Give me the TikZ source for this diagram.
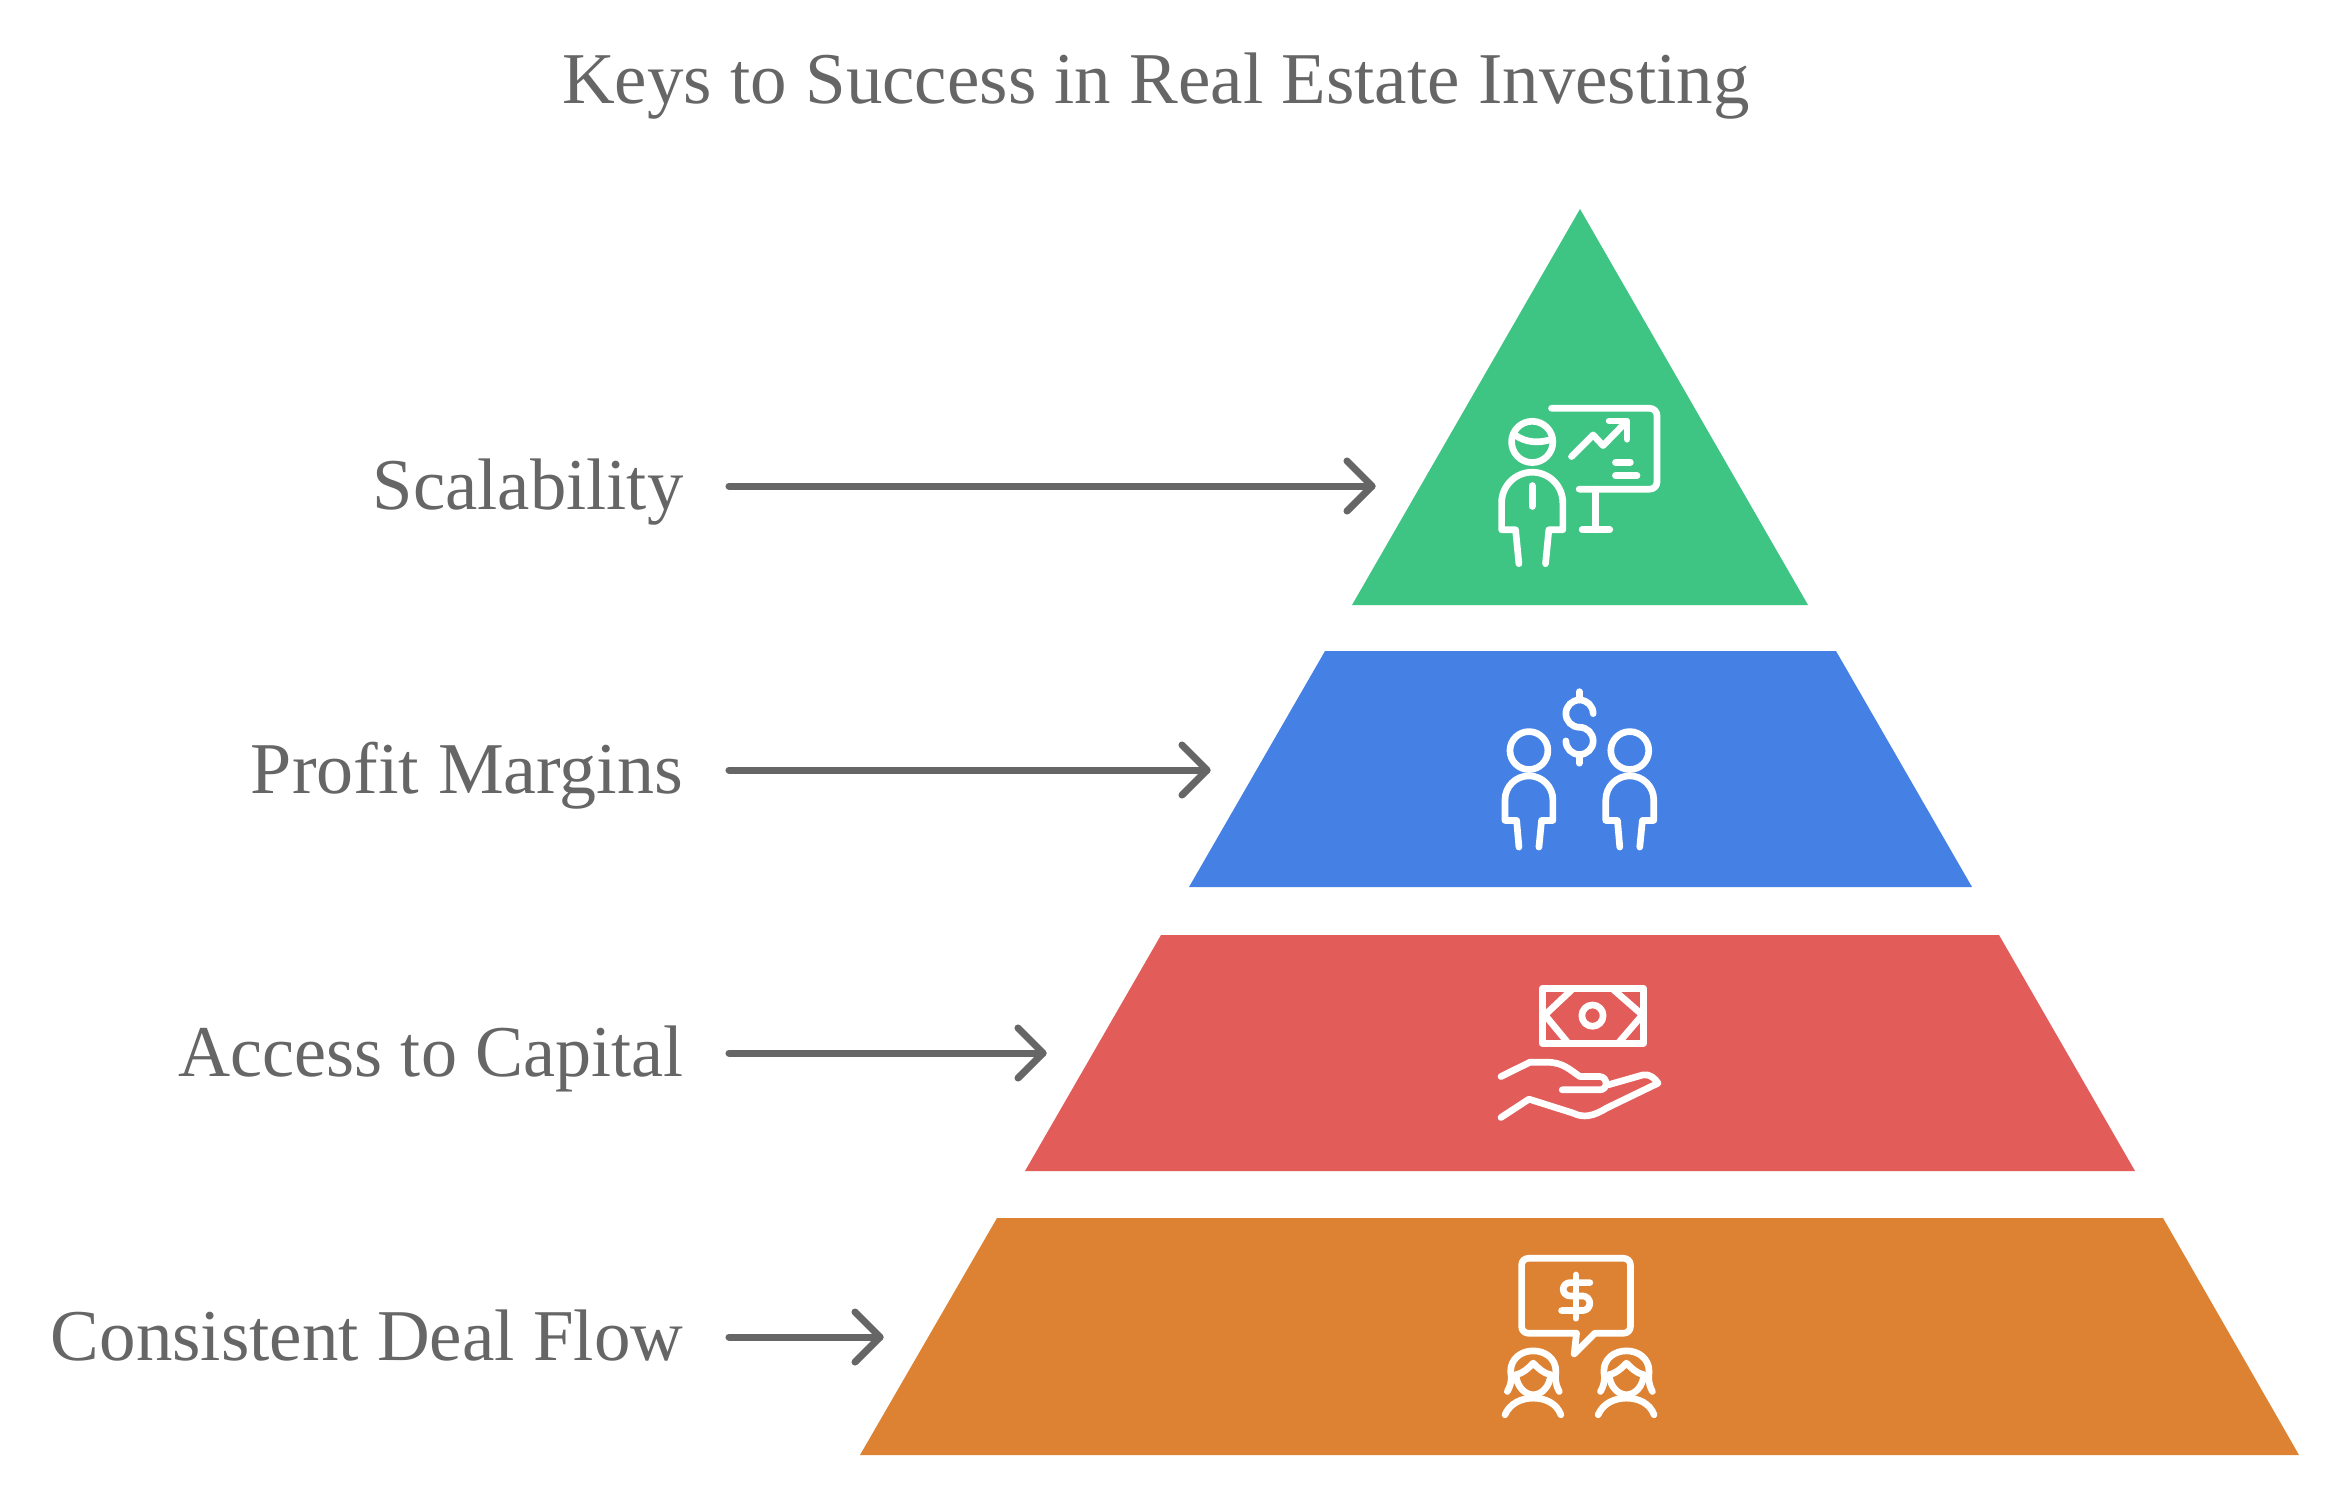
\documentclass[tikz,border=0pt]{standalone}
\usepackage{fontspec}
\usepackage{graphicx}
\setmainfont{Liberation Serif}
\usetikzlibrary{arrows.meta}
\definecolor{txt}{HTML}{666666}
\definecolor{tgreen}{HTML}{3EC483}
\definecolor{tblue}{HTML}{4581E5}
\definecolor{tred}{HTML}{E25D5A}
\definecolor{torange}{HTML}{DD8232}
\tikzset{
  label text/.style={text=txt,anchor=base east,inner sep=0pt,font=\fontsize{20.75pt}{24pt}\selectfont},
  title text/.style={text=txt,anchor=base,inner sep=0pt,font=\fontsize{20.75pt}{24pt}\selectfont},
  pointer/.style={draw=txt,line width=2pt,line cap=round,line join=round},
  icon/.style={draw=white,line width=1.9pt,line cap=round,line join=round,fill=none},
  iconbox/.style={x=0.003333cm,y=-0.003333cm},
}
\newcommand{\personbody}[1]{%
  \draw[icon,shift={(#1,0)}] (207,552)--(197,450)--(155,450)--(155,369) arc[start angle=-180,end angle=0,radius=92]--(339,450)--(297,450)--(287,552);}
\newcommand{\smallperson}[1]{%
  \begin{scope}[shift={(#1,0)}]
  \draw[icon] (147,242) circle[radius=57];
  \draw[icon] (117,532)--(110,452)--(75,452)--(75,390) arc[start angle=-180,end angle=0,radius=72]--(219,452)--(185,452)--(177,532);
  \end{scope}}
\newcommand{\woman}[1]{%
  \begin{scope}[shift={(#1,0)}]
  \draw[icon] (82,455) .. controls (100,425) and (92,400) .. (92,395) .. controls (92,355) and (125,333) .. (160,333) .. controls (195,333) and (228,355) .. (228,395) .. controls (228,405) and (222,425) .. (238,455);
  \draw[icon] (108,405) .. controls (130,400) and (145,385) .. (160,370) .. controls (175,385) and (190,400) .. (212,405);
  \draw[icon] (108,405) .. controls (110,440) and (135,465) .. (160,465) .. controls (185,465) and (210,440) .. (212,405);
  \draw[icon] (75,525) .. controls (90,490) and (125,475) .. (160,475) .. controls (195,475) and (230,490) .. (243,525);
  \end{scope}}
\begin{document}
\begin{tikzpicture}[x=0.01cm,y=-0.01cm]
\useasboundingbox (0,0) rectangle (2349,1502);
\fill[white] (0,0) rectangle (2349,1502);
% tiers
\fill[tgreen] (1580,209)--(1808,605)--(1352,605)--cycle;
\fill[tblue] (1325,651)--(1836,651)--(1972,887)--(1189,887)--cycle;
\fill[tred] (1161,935)--(1999,935)--(2135,1171)--(1025,1171)--cycle;
\fill[torange] (997,1218)--(2163,1218)--(2299,1455)--(860,1455)--cycle;
% texts
\node[title text] (title) at (1156,103) {Keys to Success in Real Estate Investing};
\node[label text] (l1) at (684,509) {\scalebox{0.995}[1]{Scalability}};
\node[label text] (l2) at (684,793) {\scalebox{1.014}[1]{Profit Margins}};
\node[label text] (l3) at (684,1076) {\scalebox{0.988}[1]{Access to Capital}};
\node[label text] (l4) at (684,1360) {Consistent Deal Flow};
% arrows
\foreach \i/\y/\xe in {1/486/1372,2/770/1207,3/1053/1043,4/1337/880}{
  \coordinate (s\i) at (729,\y);
  \coordinate (e\i) at (\xe,\y);
  \draw[pointer] (s\i)--(e\i);
  \draw[pointer] ([xshift=-0.25cm,yshift=0.25cm]e\i)--(e\i)--([xshift=-0.25cm,yshift=-0.25cm]e\i);
}
% icon 1
\begin{scope}[shift={(1450,380)},iconbox]
\draw[icon] (305,85)--(600,85) arc[start angle=-90,end angle=0,radius=22]--(622,306) arc[start angle=0,end angle=90,radius=22]--(388,328);
\draw[icon] (438,328)--(438,450);
\draw[icon] (397,450)--(480,450);
\draw[icon] (365,230)--(430,165)--(460,197)--(530,125);
\draw[icon] (478,123)--(532,123)--(532,178);
\draw[icon] (497,247)--(542,247);
\draw[icon] (497,287)--(562,287);
\draw[icon] (247,186) circle[radius=62];
\draw[icon] (195,165) .. controls (230,190) and (270,190) .. (305,178);
\personbody{0}
\draw[icon] (247,317)--(247,380);
\end{scope}
% icon 2
\begin{scope}[shift={(1480,670)},iconbox]
\draw[icon] (298,65)--(298,90);
\draw[icon] (298,255)--(298,280);
\draw[icon] (340,131) arc[start angle=0,end angle=-180,radius=41] arc[start angle=-180,end angle=-270,radius=41] arc[start angle=-90,end angle=90,radius=41] arc[start angle=90,end angle=180,radius=41];
\smallperson{0}
\smallperson{303}
\end{scope}
% icon 3
\begin{scope}[shift={(1480,970)},iconbox]
\draw[icon] (187,55) rectangle (492,220);
\draw[icon] (275,60)--(195,135)--(265,220);
\draw[icon] (402,60)--(488,135)--(415,220);
\draw[icon] (338,137) circle[radius=32];
\draw[icon] (63,320)--(150,277)--(200,277) .. controls (250,277) and (270,300) .. (300,320)--(360,320) .. controls (385,322) and (385,360) .. (360,360)--(247,360);
\draw[icon] (385,345)--(490,315) .. controls (510,312) and (525,325) .. (535,340)--(380,415) .. controls (340,440) and (310,445) .. (280,430)--(147,388)--(63,443);
\end{scope}
% icon 4
\begin{scope}[shift={(1480,1240)},iconbox]
\draw[icon] (290,280)--(145,280) arc[start angle=90,end angle=180,radius=20]--(125,75) arc[start angle=-180,end angle=-90,radius=20]--(432,55) arc[start angle=-90,end angle=0,radius=20]--(452,260) arc[start angle=0,end angle=90,radius=20]--(345,280)--(283,342)--(290,280);
\draw[icon] (288,105)--(288,235);
\draw[icon] (330,128)--(270,128) arc[start angle=-90,end angle=-270,radius=20]--(308,168) arc[start angle=-90,end angle=90,radius=22]--(245,212);
\woman{0}
\woman{280}
\end{scope}
\end{tikzpicture}
\end{document}
